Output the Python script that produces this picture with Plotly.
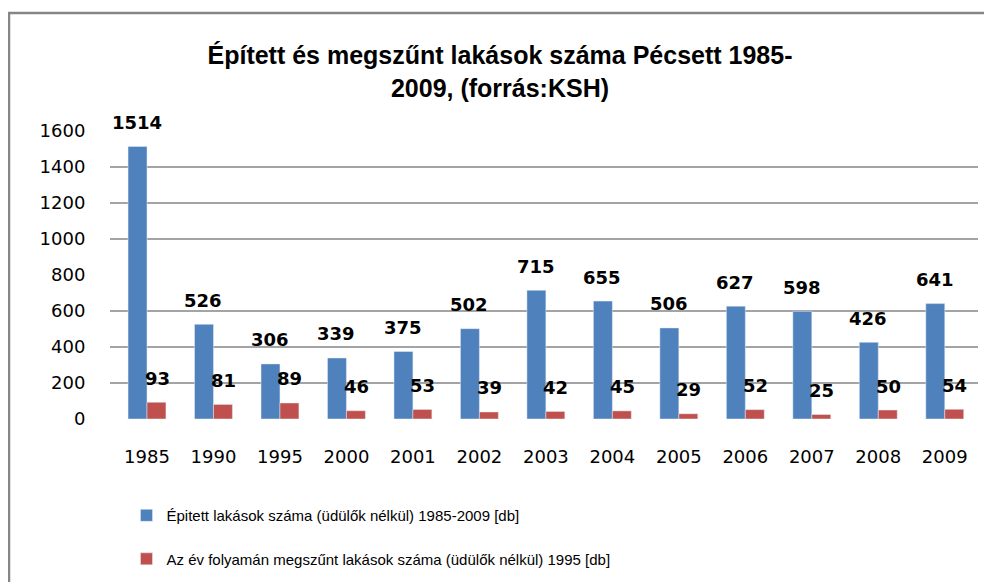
import plotly.graph_objects as go

years = ["1985", "1990", "1995", "2000", "2001", "2002", "2003", "2004", "2005", "2006", "2007", "2008", "2009"]
built = [1514, 526, 306, 339, 375, 502, 715, 655, 506, 627, 598, 426, 641]
demolished = [93, 81, 89, 46, 53, 39, 42, 45, 29, 52, 25, 50, 54]
name_built = "Épitett lakások száma (üdülők nélkül) 1985-2009 [db]"
name_demol = "Az év folyamán megszűnt lakások száma (üdülők nélkül) 1995 [db]"
title_text = "Épített és megszűnt lakások száma Pécsett 1985-<br>2009, (forrás:KSH)"
y_ticks = [0, 200, 400, 600, 800, 1000, 1200, 1400, 1600]
grid_values = [200, 400, 600, 1000, 1200, 1400]

BLUE = "#4F81BD"
RED = "#C0504D"
GRID = "#868686"
SANS = "Liberation Sans, Arial"

W, H = 984, 574
ML, MR, MT, MB = 102, 14, 123, 163

fig = go.Figure()
fig.add_trace(go.Bar(x=years, y=built, name=name_built, marker_color=BLUE,
                     legendgroup="a"))
fig.add_trace(go.Bar(x=years, y=demolished, name=name_demol, marker_color=RED,
                     legendgroup="b"))

label_font = dict(family="DejaVu Sans", size=18, color="black", weight="bold")
ann = []
for i, v in enumerate(built):
    ann.append(dict(x=i, y=v, xref="x", yref="y", text=str(v), showarrow=False,
                    xshift=-10, yshift=24, yanchor="middle", font=label_font))
for i, v in enumerate(demolished):
    ann.append(dict(x=i, y=v, xref="x", yref="y", text=str(v), showarrow=False,
                    xshift=10, yshift=24, yanchor="middle", font=label_font))

pw = W - ML - MR
ph = H - MT - MB
shapes = []
for g in grid_values:
    shapes.append(dict(type="line", xref="paper", yref="y", x0=0, x1=1, y0=g, y1=g,
                       line=dict(color=GRID, width=1.5), layer="below"))
shapes.append(dict(type="rect", xref="paper", yref="paper",
                   x0=(1 - ML) / pw, x1=1.2, y0=-0.7, y1=(ph + MT - 5) / ph,
                   line=dict(color=GRID, width=2.5), layer="below"))

fig.update_layout(
    width=W, height=H,
    margin=dict(l=ML, r=MR, t=MT, b=MB, autoexpand=False),
    paper_bgcolor="white", plot_bgcolor="white",
    barmode="group", bargap=0.43, bargroupgap=0,
    title=dict(text=title_text, x=0.5, xanchor="center", y=0.902, yanchor="top",
               font=dict(family=SANS, size=25, color="black", weight="bold")),
    xaxis=dict(type="category", showgrid=False, showline=False, automargin=False,
               ticks="outside", ticklen=21, tickcolor="rgba(0,0,0,0)",
               tickfont=dict(family="DejaVu Sans", size=18, color="black")),
    yaxis=dict(range=[0, 1600], tickvals=y_ticks, showgrid=False, zeroline=False,
               showline=False, automargin=False,
               ticks="outside", ticklen=20, tickcolor="rgba(0,0,0,0)",
               tickfont=dict(family="DejaVu Sans", size=18, color="black")),
    legend=dict(orientation="v", x=0.019, xanchor="left", y=-0.278, yanchor="top",
                traceorder="grouped", tracegroupgap=21, itemwidth=30,
                font=dict(family=SANS, size=15, color="black")),
    annotations=ann, shapes=shapes,
)

fig.write_html("out.html")
